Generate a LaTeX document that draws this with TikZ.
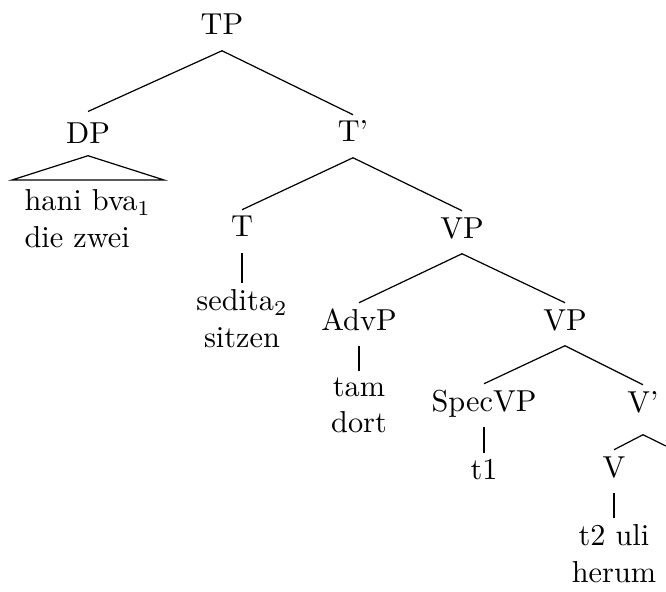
\documentclass[tikz,border=0pt]{standalone}
\begin{document}
\begin{tikzpicture}[x=0.33pt,y=-0.33pt,
  cat/.style={anchor=base, inner sep=0pt, text height=8.8pt, text depth=5pt},
  leaf/.style={anchor=north, align=center, inner xsep=0pt, inner ysep=2pt},
  branch/.style={line width=0.4pt}]
\useasboundingbox (0,0) rectangle (666,592);
\clip (0,0) rectangle (666,592);

% phrase and head labels
\node[cat] (TP)     at (222,35)  {TP};
\node[cat, text height=10.2pt, text depth=4pt] (DP) at (88,143) {DP};
\node[cat] (Tbar)   at (353,142) {T'};
\node[cat] (T)      at (242,237) {T};
\node[cat] (VP)     at (462,238) {VP};
\node[cat] (AdvP)   at (359,330) {AdvP};
\node[cat] (VPb)    at (565,330) {VP};
\node[cat] (SpecVP) at (484,411) {SpecVP};
\node[cat, text depth=7.3pt] (Vbar) at (643,412) {V'};
\node[cat] (V)      at (614,477) {V};

% terminal strings
\node[leaf, anchor=north west, align=left] (dpwords) at (24,183) {hani bva$_1$\\die zwei};
\node[leaf] (sedita) at (242,283) {sedita$_2$\\sitzen};
\node[leaf] (tam)    at (359,371) {tam\\dort};
\node[leaf] (tone)   at (484,453) {t1};
\node[leaf] (ttwo)   at (614,518) {t2 uli\\herum};

% roof over the DP
\coordinate (roofL) at (12,180);
\coordinate (roofR) at (164,180);
\draw[branch] (DP.south) -- (roofL) -- (roofR) -- cycle;

% right daughter of V', running off the edge
\coordinate (Vright) at (674,450);

% branches
\draw[branch] (TP.south) -- (DP.north);
\draw[branch] (TP.south) -- (Tbar.north);
\draw[branch] (Tbar.south) -- (T.north);
\draw[branch] (Tbar.south) -- (VP.north);
\draw[branch] (T.south) -- (sedita.north);
\draw[branch] (VP.south) -- (AdvP.north);
\draw[branch] (VP.south) -- (VPb.north);
\draw[branch] (AdvP.south) -- (tam.north);
\draw[branch] (VPb.south) -- (SpecVP.north);
\draw[branch] (VPb.south) -- (Vbar.north);
\draw[branch] (SpecVP.south) -- (tone.north);
\draw[branch] (Vbar.south) -- (V.north);
\draw[branch] (Vbar.south) -- (Vright);
\draw[branch] (V.south) -- (ttwo.north);
\end{tikzpicture}
\end{document}
